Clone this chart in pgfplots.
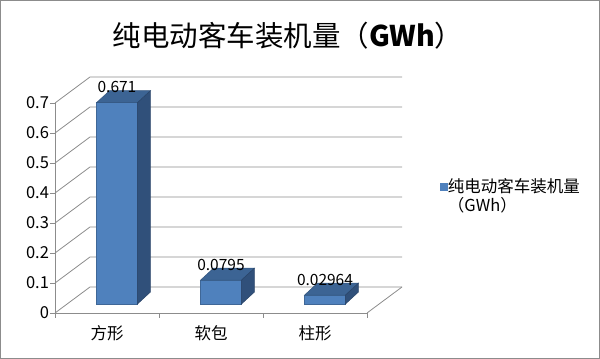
\documentclass[border=0pt]{standalone}
\usepackage{pgfplots}
\pgfplotsset{compat=1.18}
\usepackage{fontspec}
\setmainfont{Noto Sans CJK SC}
\definecolor{barfront}{HTML}{4F81BD}
\definecolor{bartop}{HTML}{3C6494}
\definecolor{barside}{HTML}{30507A}
\definecolor{gridc}{HTML}{8C8C8C}
\newcommand\bartd[2]{%
\pgfmathsetmacro\xl{#1-0.101}%
\pgfmathsetmacro\xr{#1+0.293}%
\pgfmathsetmacro\xbl{#1+0.024}%
\pgfmathsetmacro\xbr{#1+0.418}%
\pgfmathsetmacro\yf{#2+0.03}%
\pgfmathsetmacro\yb{#2+0.07}%
\edef\doit{%
\noexpand\addplot[forget plot, fill=barfront, draw=barfront!80!black, line width=0.5bp] coordinates {(\xl,0.03) (\xr,0.03) (\xr,\yf) (\xl,\yf)} -- cycle;
\noexpand\addplot[forget plot, fill=bartop, draw=bartop!85!black, line width=0.5bp] coordinates {(\xl,\yf) (\xr,\yf) (\xbr,\yb) (\xbl,\yb)} -- cycle;
\noexpand\addplot[forget plot, fill=barside, draw=barside!85!black, line width=0.5bp] coordinates {(\xr,0.03) (\xbr,0.07) (\xbr,\yb) (\xr,\yf)} -- cycle;
}\doit}
\begin{document}
\begin{tikzpicture}
\draw[gridc, line width=1bp] (0.5bp,0.5bp) rectangle (599.5bp,358.5bp);
\node[font=\fontsize{28.5bp}{30bp}\selectfont] at (288bp,323bp) {纯电动客车装机量（\textbf{GWh}）};
\begin{axis}[
  at={(55bp,46bp)}, anchor=south west,
  scale only axis, width=312bp, height=210bp,
  xmin=0, xmax=3, ymin=0, ymax=0.7,
  clip=false,
  axis x line*=bottom, axis y line*=left,
  axis line style={gridc, line width=0.8bp},
  tick style={gridc, line width=0.8bp},
  tick align=outside, major tick length=4.5bp,
  xtick={0,1,2,3}, xticklabels={},
  extra x ticks={0.5,1.5,2.5},
  extra x tick labels={方形,软包,柱形},
  extra x tick style={major tick length=0pt, tick label style={yshift=-9bp}},
  ytick={0,0.1,0.2,0.3,0.4,0.5,0.6,0.7},
  yticklabel style={/pgf/number format/fixed, /pgf/number format/precision=1, xshift=2bp},
  /pgf/number format/assume math mode=true,
  tick label style={font=\fontsize{16.5bp}{18bp}\selectfont},
  legend style={at={(1.232,0.645)}, anchor=north west, draw=none, fill=none,
    font=\fontsize{16.5bp}{18bp}\selectfont, inner sep=0pt, row sep=1bp,
    nodes={inner sep=1bp}},
  legend image code/.code={\fill[barfront] (0bp,-3.5bp) rectangle (7bp,3.5bp);},
  legend cell align=left,
]
\pgfplotsinvokeforeach{0,0.1,0.2,0.3,0.4,0.5,0.6,0.7}{
  \addplot[gridc, line width=0.8bp, forget plot] table[row sep=\\, y expr=\thisrow{y}+#1] {x y\\ 0 0\\ 0.3365 0.0867\\ 3.3365 0.0867\\};
}
\addplot[gridc, line width=0.8bp, forget plot] coordinates {(3,0) (3.3365,0.0867)};
\bartd{0.5}{0.671}
\bartd{1.5}{0.0795}
\bartd{2.5}{0.02964}
\addplot[draw=none, mark=none, forget plot, point meta=explicit symbolic,
  nodes near coords={\pgfplotspointmeta},
  nodes near coords style={font=\fontsize{15.5bp}{17bp}\selectfont, anchor=center}]
  coordinates {(0.596,0.753)[0.671] (1.596,0.1615)[0.0795] (2.596,0.1116)[0.02964]};
\addlegendimage{barfront}
\addlegendentry{纯电动客车装机量}
\addlegendimage{empty legend}
\addlegendentry{（GWh）}
\end{axis}
\end{tikzpicture}
\end{document}
